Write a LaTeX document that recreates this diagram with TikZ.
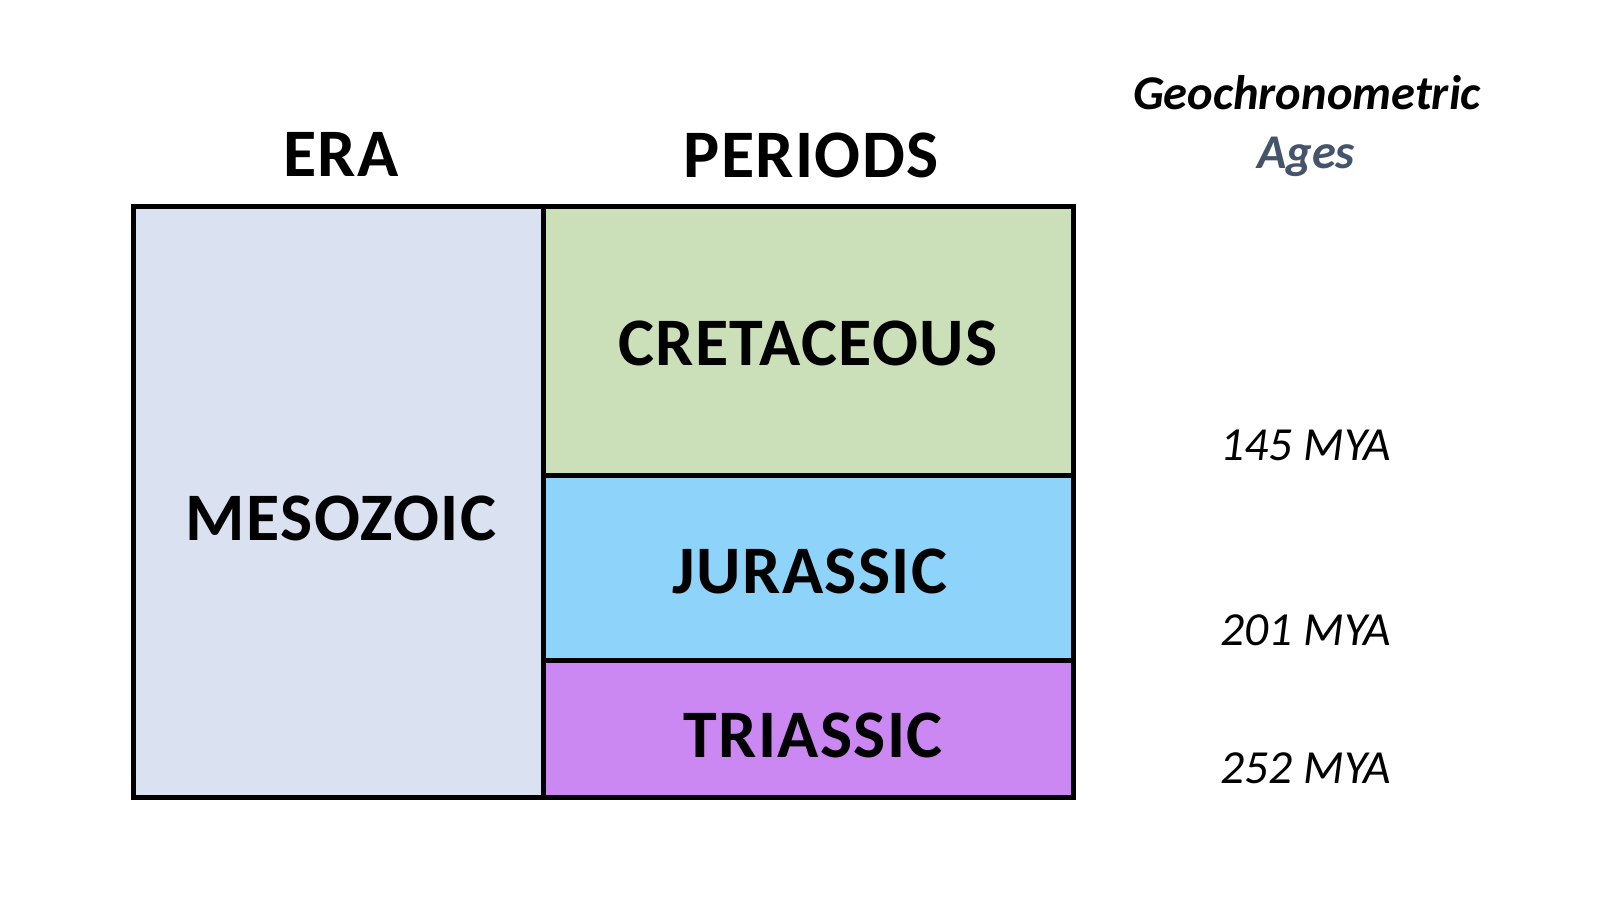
\documentclass[tikz,border=0pt]{standalone}
\usepackage{fontspec}
\setmainfont{Carlito}
\newfontfamily\bigfont[LetterSpace=2]{Carlito}
\definecolor{eraC}{HTML}{DAE1F1}
\definecolor{cretC}{HTML}{CBDFB8}
\definecolor{jurC}{HTML}{8DD3FA}
\definecolor{triC}{HTML}{CC88F2}
\definecolor{agesC}{HTML}{44546A}
\tikzset{
  cell/.style={draw=black, line width=5pt, line join=miter, inner sep=0pt, rectangle},
  bigtxt/.style={anchor=base, inner sep=0pt, font=\bigfont\fontsize{68}{68}\selectfont\bfseries},
  headtxt/.style={anchor=base, inner sep=0pt, font=\fontsize{48.5}{48.5}\selectfont\bfseries\itshape},
  agetxt/.style={anchor=base, inner sep=0pt, font=\fontsize{47.5}{47.5}\selectfont\itshape}
}
\begin{document}
\begin{tikzpicture}[x=1pt,y=-1pt]
\useasboundingbox[fill=white] (0,0) rectangle (1600,900);
% cells
\node[cell, fill=eraC, minimum width=410pt, minimum height=591pt] (era) at (338.5,502) {};
\node[cell, fill=cretC, minimum width=530pt, minimum height=268.5pt] (cret) at (808.5,340.75) {};
\node[cell, fill=jurC, minimum width=530pt, minimum height=185.5pt] (jur) at (808.5,567.75) {};
\node[cell, fill=triC, minimum width=530pt, minimum height=137pt] (tri) at (808.5,729) {};
% headers
\node[bigtxt] (hera) at (341,176) {ERA};
\node[bigtxt] (hper) at (811,177) {PERIODS};
% labels
\node[bigtxt] (tmeso) at (341,540) {MESOZOIC};
\node[bigtxt] (tcret) at (808,365) {CRETACEOUS};
\node[bigtxt] (tjur) at (810,593) {JURASSIC};
\node[bigtxt] (ttri) at (813,757) {TRIASSIC};
% right column
\node[headtxt] (hgeo) at (1307,109) {Geochronometric};
\node[headtxt, text=agesC] (hages) at (1306,168) {Ages};
\node[agetxt] (a145) at (1306,460) {145 MYA};
\node[agetxt] (a201) at (1306,645) {201 MYA};
\node[agetxt] (a252) at (1306,783) {252 MYA};
\end{tikzpicture}
\end{document}
